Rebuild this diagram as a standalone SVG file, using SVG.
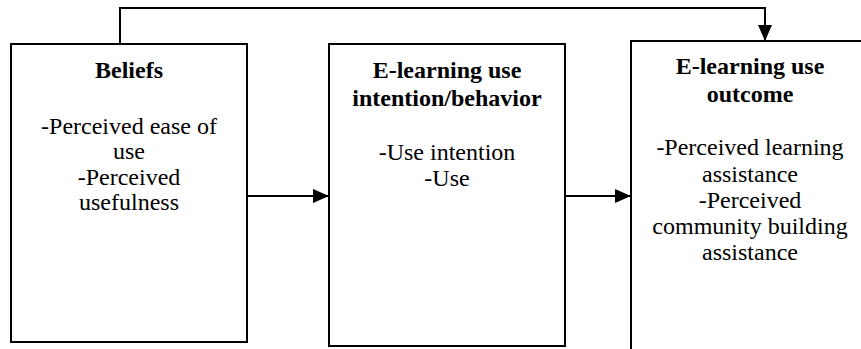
<svg xmlns="http://www.w3.org/2000/svg" width="861" height="349" viewBox="0 0 861 349">
<style>
.box{fill:#fff;stroke:#000;stroke-width:2}
text{font-family:'Liberation Serif','DejaVu Serif',serif;font-size:24px;fill:#000;text-anchor:middle}
.b{font-weight:bold}
.c{fill:none;stroke:#000;stroke-width:2}
</style>
<defs>
<marker id="ah" viewBox="0 0 16 14" refX="16" refY="7" markerWidth="16" markerHeight="14" markerUnits="userSpaceOnUse" orient="auto">
<path d="M0,0 L16,7 L0,14 Z" fill="#000"/>
</marker>
</defs>
<rect width="861" height="349" fill="#fff"/>
<g id="beliefs" font-family="Liberation Serif, serif">
<rect class="box" x="11" y="44" width="236" height="298"/>
<text class="b" x="129" y="78">Beliefs</text>
<text x="129" y="134">-Perceived ease of</text>
<text x="129" y="159">use</text>
<text x="129" y="185">-Perceived</text>
<text x="129" y="210">usefulness</text>
</g>
<g id="intention">
<rect class="box" x="329" y="44" width="236" height="302"/>
<text class="b" x="447" y="78">E-learning use</text>
<text class="b" x="447" y="106">intention/behavior</text>
<text x="447" y="160">-Use intention</text>
<text x="447" y="186">-Use</text>
</g>
<g id="outcome">
<rect class="box" x="631" y="41" width="240" height="320"/>
<text class="b" x="750" y="74">E-learning use</text>
<text class="b" x="750" y="102">outcome</text>
<text x="750" y="155">-Perceived learning</text>
<text x="750" y="182">assistance</text>
<text x="750" y="208">-Perceived</text>
<text x="750" y="234">community building</text>
<text x="750" y="260">assistance</text>
</g>
<g id="connectors">
<line class="c" x1="247" y1="196" x2="329" y2="196" marker-end="url(#ah)"/>
<line class="c" x1="565" y1="196" x2="631" y2="196" marker-end="url(#ah)"/>
<polyline class="c" points="120,44 120,8 765,8 765,41" marker-end="url(#ah)"/>
</g>
</svg>
